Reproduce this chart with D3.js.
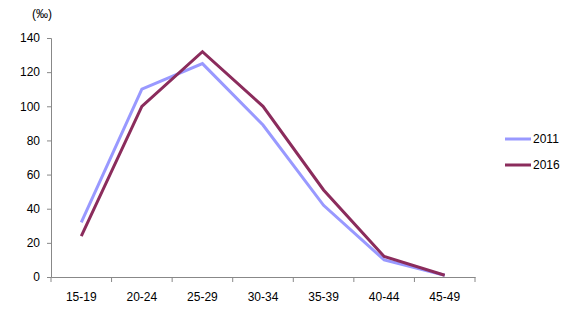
<!DOCTYPE html>
<html><head><meta charset="utf-8">
<script src="https://cdn.jsdelivr.net/npm/d3@7"></script>
<style>body{margin:0;background:#fff}svg{display:block}text{font-family:"Liberation Sans",Arial,sans-serif;font-size:12px;fill:#000}</style>
</head><body>
<script>
const categories = ["15-19","20-24","25-29","30-34","35-39","40-44","45-49"];
const values2011 = [32,110,125,89,42,10,1];
const values2016 = [24,100,132,100,51,12,1];
const yTicks = [0,20,40,60,80,100,120,140];
const seriesNames = ["2011","2016"];
const colors = ["#9999ff","#8b2c5c"];

const W=573,H=312;
const svg=d3.select("body").append("svg").attr("width",W).attr("height",H);
const x=d3.scaleBand().domain(categories).range([51,475]);
const y=d3.scaleLinear().domain([0,140]).range([277,38]);
const axisColor="#888";

const ya=svg.append("g").attr("transform","translate(51,0)").call(d3.axisLeft(y).tickValues(yTicks).tickSize(4).tickPadding(7));
const xa=svg.append("g").attr("transform","translate(0,277)").call(d3.axisBottom(x).tickSize(0).tickPadding(15));
[ya,xa].forEach(g=>{g.selectAll("path,line").attr("stroke",axisColor);g.selectAll("text").style("font-size","12px").style("font-family","'Liberation Sans',Arial,sans-serif").attr("fill","#000");});
// category boundary ticks
const bounds=categories.map(c=>x(c)).concat([x.range()[1]]);
svg.append("g").selectAll("line").data(bounds).join("line")
 .attr("x1",d=>d).attr("x2",d=>d).attr("y1",277).attr("y2",282).attr("stroke",axisColor);

svg.append("text").attr("x",42).attr("y",18).attr("text-anchor","middle").text("(‰)");

const line=d3.line().x((d,i)=>x(categories[i])+x.bandwidth()/2).y(d=>y(d));
[values2011,values2016].forEach((vals,i)=>{
 svg.append("path").datum(vals).attr("d",line).attr("fill","none").attr("stroke",colors[i]).attr("stroke-width",3).attr("stroke-linejoin","miter");
});

const leg=svg.append("g");
seriesNames.forEach((n,i)=>{
 const yy=139+i*26;
 leg.append("line").attr("x1",505).attr("x2",531).attr("y1",yy).attr("y2",yy).attr("stroke",colors[i]).attr("stroke-width",3);
 leg.append("text").attr("x",533).attr("y",yy+4).text(n);
});
</script>
</body></html>
